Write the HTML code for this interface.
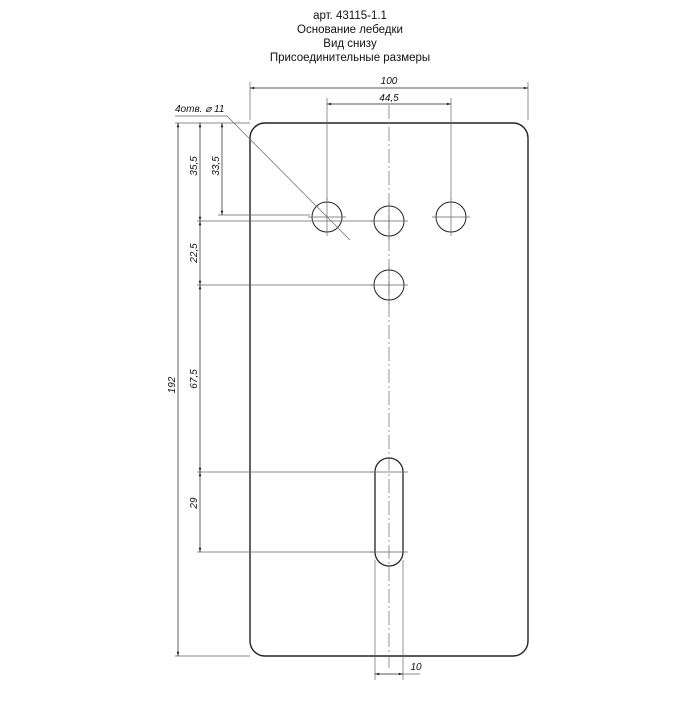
<!DOCTYPE html>
<html><head><meta charset="utf-8"><style>body{margin:0;background:#fff}</style></head><body>
<svg width="700" height="700" viewBox="0 0 700 700" xmlns="http://www.w3.org/2000/svg" font-family="Liberation Sans, sans-serif">
<defs><marker id="a" viewBox="0 0 10 10" refX="10" refY="5" markerWidth="8" markerHeight="6" orient="auto-start-reverse"><path d="M0,2 L10,5 L0,8z" fill="#222"/></marker></defs>
<g text-anchor="middle" font-size="11.5" fill="#111">
<text x="350" y="19">арт. 43115-1.1</text>
<text x="350" y="33">Основание лебедки</text>
<text x="350" y="47">Вид снизу</text>
<text x="350" y="61">Присоединительные размеры</text>
</g>
<g fill="none" stroke="#222">
<rect x="250" y="123" width="278" height="533" rx="15" stroke-width="1.4"/>
<circle cx="327" cy="217" r="15"/><circle cx="389" cy="221" r="15"/><circle cx="451" cy="217" r="15"/><circle cx="389" cy="285" r="15"/>
<path d="M375,472 A14,14 0 0 1 403,472 L403,552 A14,14 0 0 1 375,552 Z" stroke-width="1.3"/>
</g>
<g stroke="#666" stroke-width="0.7" fill="none">
<path d="M389,105 V668" stroke-dasharray="14,3,2,3"/>
<path d="M308,217 H346 M327,198 V236 M432,217 H470 M451,198 V236 M370,221 H408 M389,202 V240 M370,285 H408 M389,266 V304 M370,472 H408 M370,552 H408"/>
<path d="M250,82 V120 M528,82 V120 M327,98 V200 M451,98 V200"/>
<path d="M175,123 H250 M197,221 H375 M218,215 H310 M197,285 H375 M197,472 H375 M197,552 H375 M175,656 H250 M375,560 V680 M403,560 V680 M403,674 H420"/>
<path d="M175,116 H227 L350,240"/>
</g>
<g stroke="#222" stroke-width="0.7" marker-start="url(#a)" marker-end="url(#a)">
<line x1="250" y1="88" x2="528" y2="88"/><line x1="327" y1="104" x2="451" y2="104"/>
<line x1="178" y1="123" x2="178" y2="656"/><line x1="200" y1="123" x2="200" y2="221"/>
<line x1="222" y1="123" x2="222" y2="215"/><line x1="200" y1="221" x2="200" y2="285"/>
<line x1="200" y1="285" x2="200" y2="472"/><line x1="200" y1="472" x2="200" y2="552"/>
<line x1="375" y1="674" x2="403" y2="674"/>
</g>
<g font-size="10" font-style="italic" fill="#111" text-anchor="middle">
<text x="389" y="84">100</text><text x="389" y="101">44,5</text>
<text x="175" y="112" text-anchor="start">4отв. ⌀ 11</text>
<text transform="translate(175,385) rotate(-90)">192</text>
<text transform="translate(197,166) rotate(-90)">35,5</text>
<text transform="translate(219,166) rotate(-90)">33,5</text>
<text transform="translate(197,253) rotate(-90)">22,5</text>
<text transform="translate(197,379) rotate(-90)">67,5</text>
<text transform="translate(197,503) rotate(-90)">29</text>
<text x="416" y="670">10</text>
</g>
</svg>
</body></html>
